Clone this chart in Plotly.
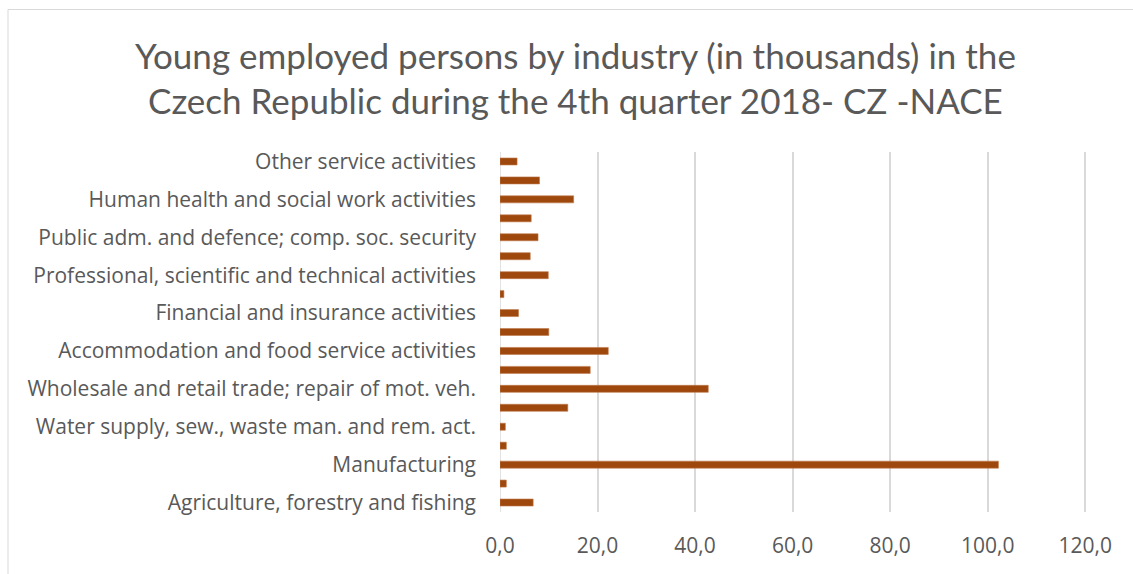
import plotly.graph_objects as go

# CZ-NACE sections A..S, bottom to top
industries = [
    "Agriculture, forestry and fishing",
    "Mining and quarrying",
    "Manufacturing",
    "Electricity, gas, steam and air cond. supply",
    "Water supply, sew., waste man. and rem. act.",
    "Construction",
    "Wholesale and retail trade; repair of mot. veh.",
    "Transportation and storage",
    "Accommodation and food service activities",
    "Information and communication",
    "Financial and insurance activities",
    "Real estate activities",
    "Professional, scientific and technical activities",
    "Administrative and support service activities",
    "Public adm. and defence; comp. soc. security",
    "Education",
    "Human health and social work activities",
    "Arts, entertainment and recreation",
    "Other service activities",
]
# Young employed persons, thousands
employed = [6.8, 1.3, 102.2, 1.3, 1.1, 13.9, 42.7, 18.5, 22.2, 10.0,
            3.8, 0.8, 9.9, 6.2, 7.8, 6.4, 15.1, 8.1, 3.5]

# only every other category gets a visible label
shown_labels = industries[::2]
x_ticks = [0, 20, 40, 60, 80, 100, 120]
x_tick_text = ["0,0", "20,0", "40,0", "60,0", "80,0", "100,0", "120,0"]

title_lines = [
    "Young employed persons by industry (in thousands) in the",
    "Czech Republic during the 4th quarter 2018- CZ -NACE",
]

W, H = 1133, 574
X_MAX = 122
L, T, B = 500, 152, 62
plot_w = round(4.875 * X_MAX)
R = W - L - plot_w
plot_h = H - T - B

fig = go.Figure(go.Bar(
    x=employed,
    y=industries,
    orientation="h",
    marker=dict(color="#9E480E", line=dict(color="#C0784A", width=0.6)),
    hoverinfo="x+y",
))

grey = "#595959"

fig.update_layout(
    width=W, height=H,
    margin=dict(l=L, r=R, t=T, b=B),
    paper_bgcolor="white",
    plot_bgcolor="white",
    showlegend=False,
    bargap=0.63,
    font=dict(family="Open Sans", color=grey),
    xaxis=dict(
        range=[0, X_MAX],
        tickvals=x_ticks,
        ticktext=x_tick_text,
        showgrid=True,
        gridcolor="#D9D9D9",
        gridwidth=1.5,
        zeroline=False,
        showline=False,
        ticks="",
        tickfont=dict(family="Open Sans", size=21, color=grey),
        ticklabelstandoff=19,
        fixedrange=True,
    ),
    yaxis=dict(
        type="category",
        categoryorder="array",
        categoryarray=industries,
        tickvals=shown_labels,
        ticktext=shown_labels,
        showgrid=False,
        zeroline=False,
        showline=False,
        ticks="",
        tickfont=dict(family="Open Sans", size=21, color=grey),
        ticklabelstandoff=23,
        range=[-0.5, len(industries) - 0.5],
        fixedrange=True,
    ),
)

# vertical axis line at zero
fig.add_shape(type="line", xref="x", yref="paper", x0=0, x1=0, y0=0, y1=1,
              line=dict(color="#D9D9D9", width=1.5), layer="below")

# chart-area border
def px_x(p):
    return (p - L) / plot_w

def px_y(p):
    return (H - B - p) / plot_h

fig.add_shape(type="rect", xref="paper", yref="paper",
              x0=px_x(8), x1=px_x(1142), y0=px_y(590), y1=px_y(9.5),
              line=dict(color="#D9D9D9", width=1), fillcolor="rgba(0,0,0,0)")

# two-line chart title
for line, yc in zip(title_lines, [55, 100]):
    fig.add_annotation(
        text=line, xref="paper", yref="paper",
        x=px_x(575), y=px_y(yc), xanchor="center", yanchor="middle",
        showarrow=False,
        font=dict(family="Lato", size=35, color=grey),
    )

fig.write_html("out.html")
